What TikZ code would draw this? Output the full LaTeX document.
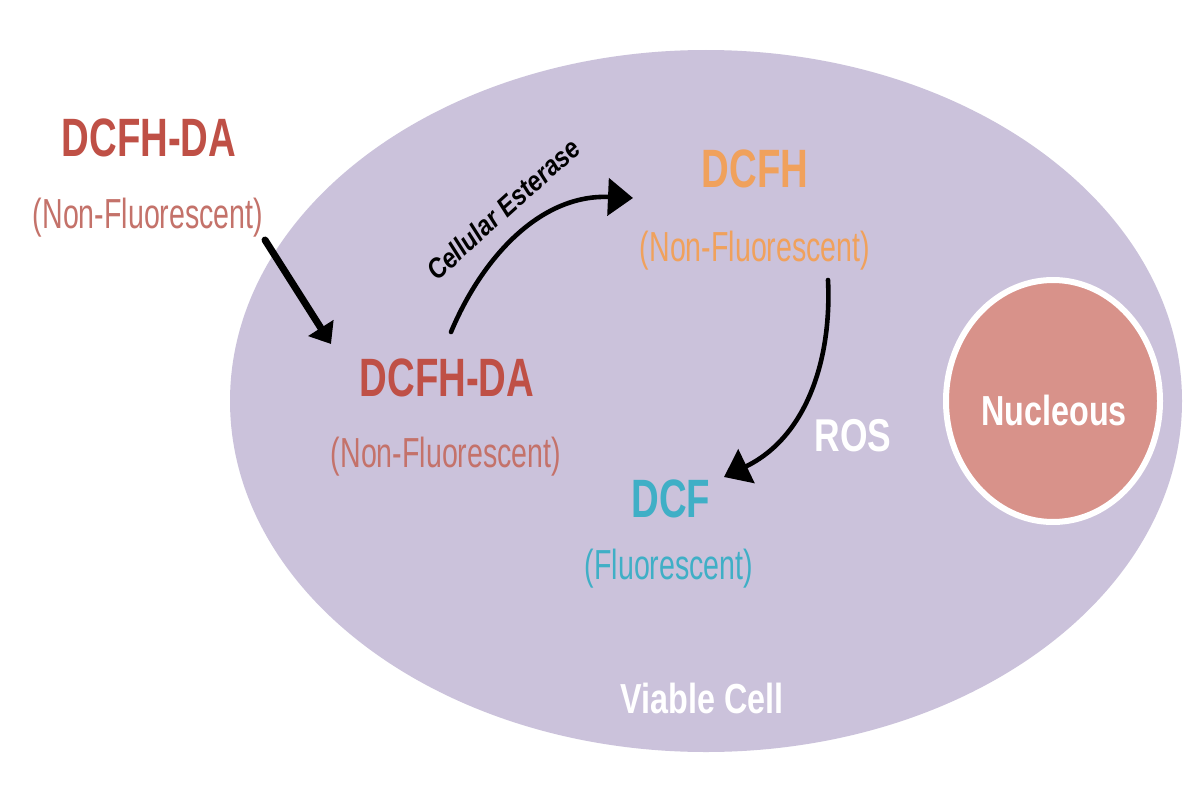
\documentclass[tikz,border=0pt]{standalone}
\usepackage{fontspec}
\setmainfont{Liberation Sans}
\usepackage{xcolor}
\usetikzlibrary{arrows.meta, positioning}
\definecolor{cellfill}{HTML}{CBC2DB}
\definecolor{darared}{HTML}{BF5046}
\definecolor{darapale}{HTML}{C4726A}
\definecolor{dcfhorange}{HTML}{F0A15C}
\definecolor{dcfblue}{HTML}{3FAFC6}
\definecolor{nucfill}{HTML}{D8928A}
\tikzset{
  title/.style={font=\fontsize{54}{54}\selectfont\bfseries,xscale=0.71},
  sub/.style={font=\fontsize{42}{42}\selectfont,xscale=0.68},
  whitetext/.style={text=white,font=\fontsize{42}{42}\selectfont\bfseries,xscale=0.77},
  arrow/.style={line width=4.6pt,line cap=round,-{Triangle[length=25pt,width=37pt]}},
  fatarrow/.style={line width=7pt,line cap=round,-{Triangle[length=19pt,width=29pt]}}
}
\begin{document}
\begin{tikzpicture}[x=1pt,y=-1pt]
    \useasboundingbox (0,0) rectangle (1200,800);
    \fill[white] (0,0) rectangle (1200,800);
    \fill[cellfill] (706,401) ellipse [x radius=476, y radius=351];
    \filldraw[fill=nucfill,draw=white,line width=6pt] (1053,401) ellipse [x radius=107, y radius=121];

    \node[title,text=darared] (outer) at (149,138) {DCFH-DA};
    \node[sub,text=darapale] (outersub) at (148,218) {(Non-Fluorescent)};
    \node[title,text=darared] (inner) at (447,378) {DCFH-DA};
    \node[sub,text=darapale] (innersub) at (446,457) {(Non-Fluorescent)};
    \node[title,text=dcfhorange] (dcfh) at (755,169) {DCFH};
    \node[sub,text=dcfhorange] (dcfhsub) at (755,251) {(Non-Fluorescent)};
    \node[title,text=dcfblue] (dcf) at (671,499) {DCF};
    \node[sub,text=dcfblue] (dcfsub) at (669,569) {(Fluorescent)};
    \node[whitetext,font=\fontsize{46}{46}\selectfont\bfseries] (ros) at (853,436) {ROS};
    \node[whitetext] (nuc) at (1054,410) {Nucleous};
    \node[whitetext] (cell) at (702,698) {Viable Cell};
    \node[font=\fontsize{28}{28}\selectfont\bfseries\itshape,rotate=42,xscale=0.86] (esterase) at (503,209) {Cellular Esterase};

    \coordinate (a0) at (265,240);
    \coordinate (a1) at (331,344);
    \coordinate (b0) at (451,332);
    \coordinate (b1) at (633,198);
    \coordinate (c0) at (828,280);
    \coordinate (c1) at (724,477);

    \draw[fatarrow] (a0) -- (a1);
    \draw[arrow] (b0) .. controls (482,258) and (540,194) .. (b1);
    \draw[arrow] (c0) .. controls (832,362) and (805,438) .. (c1);
\end{tikzpicture}
\end{document}
